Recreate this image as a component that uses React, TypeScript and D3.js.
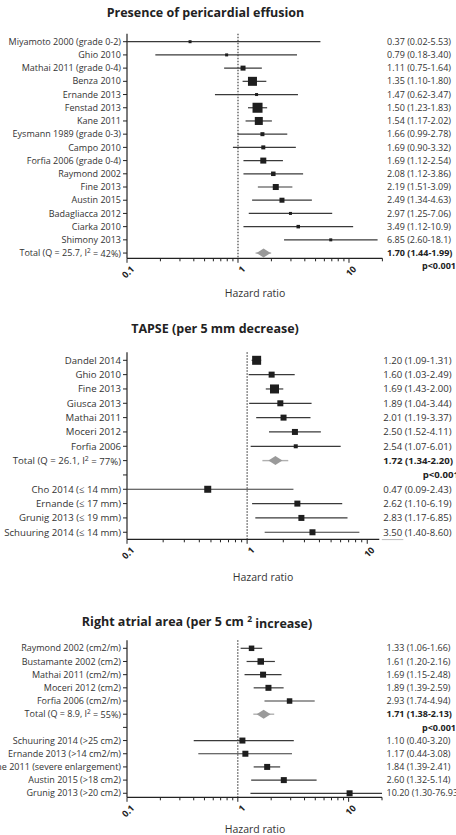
import React from 'react';
import * as d3 from 'd3';

const W = 456;
const H = 835;
const FONT = "'Open Sans', 'DejaVu Sans', sans-serif";

// ---------- Panel 1: Presence of pericardial effusion ----------
const effLabels = [
  'Miyamoto 2000 (grade 0-2)', 'Ghio 2010', 'Mathai 2011 (grade 0-4)', 'Benza 2010', 'Ernande 2013',
  'Fenstad 2013', 'Kane 2011', 'Eysmann 1989 (grade 0-3)', 'Campo 2010', 'Forfia 2006 (grade 0-4)',
  'Raymond 2002', 'Fine 2013', 'Austin 2015', 'Badagliacca 2012', 'Ciarka 2010', 'Shimony 2013',
];
const effHR = [0.37, 0.79, 1.11, 1.35, 1.47, 1.50, 1.54, 1.66, 1.69, 1.69, 2.08, 2.19, 2.49, 2.97, 3.49, 6.85];
const effLo = [0.02, 0.18, 0.75, 1.10, 0.62, 1.23, 1.17, 0.99, 0.90, 1.12, 1.12, 1.51, 1.34, 1.25, 1.12, 2.60];
const effHi = [5.53, 3.40, 1.64, 1.80, 3.47, 1.83, 2.02, 2.78, 3.32, 2.54, 3.86, 3.09, 4.63, 7.06, 10.9, 18.1];
const effWeight = [3, 3, 5, 9, 3, 10, 8, 4, 4, 6, 4.5, 6, 5, 3, 3.5, 3];
const effTexts = [
  '0.37 (0.02-5.53)', '0.79 (0.18-3.40)', '1.11 (0.75-1.64)', '1.35 (1.10-1.80)', '1.47 (0.62-3.47)',
  '1.50 (1.23-1.83)', '1.54 (1.17-2.02)', '1.66 (0.99-2.78)', '1.69 (0.90-3.32)', '1.69 (1.12-2.54)',
  '2.08 (1.12-3.86)', '2.19 (1.51-3.09)', '2.49 (1.34-4.63)', '2.97 (1.25-7.06)', '3.49 (1.12-10.9)',
  '6.85 (2.60-18.1)',
];
const effTotal = { label: 'Total (Q = 25.7, I²  = 42%)', hr: 1.70, lo: 1.44, hi: 1.99, text: '1.70 (1.44-1.99)' };

// ---------- Panel 2: TAPSE ----------
const tapLabels = ['Dandel 2014', 'Ghio 2010', 'Fine 2013', 'Giusca 2013', 'Mathai 2011', 'Moceri 2012', 'Forfia 2006'];
const tapHR = [1.20, 1.60, 1.69, 1.89, 2.01, 2.50, 2.54];
const tapLo = [1.09, 1.03, 1.43, 1.04, 1.19, 1.52, 1.07];
const tapHi = [1.31, 2.49, 2.00, 3.44, 3.37, 4.11, 6.01];
const tapWeight = [9, 6, 9, 6, 6, 6, 4];
const tapTexts = ['1.20 (1.09-1.31)', '1.60 (1.03-2.49)', '1.69 (1.43-2.00)', '1.89 (1.04-3.44)', '2.01 (1.19-3.37)', '2.50 (1.52-4.11)', '2.54 (1.07-6.01)'];
const tapTotal = { label: 'Total (Q = 26.1, I²  = 77%)', hr: 1.72, lo: 1.34, hi: 2.20, text: '1.72 (1.34-2.20)' };
const tapCutLabels = ['Cho 2014 (≤ 14 mm)', 'Ernande (≤ 17 mm)', 'Grunig 2013 (≤ 19 mm)', 'Schuuring 2014 (≤ 14 mm)'];
const tapCutHR = [0.47, 2.62, 2.83, 3.50];
const tapCutLo = [0.09, 1.10, 1.17, 1.40];
const tapCutHi = [2.43, 6.19, 6.85, 8.60];
const tapCutWeight = [7, 6, 6, 6];
const tapCutTexts = ['0.47 (0.09-2.43)', '2.62 (1.10-6.19)', '2.83 (1.17-6.85)', '3.50 (1.40-8.60)'];

// ---------- Panel 3: Right atrial area ----------
const raLabels = ['Raymond 2002 (cm2/m)', 'Bustamante 2002 (cm2)', 'Mathai 2011 (cm2/m)', 'Moceri 2012 (cm2)', 'Forfia 2006 (cm2/m)'];
const raHR = [1.33, 1.61, 1.69, 1.89, 2.93];
const raLo = [1.06, 1.20, 1.15, 1.39, 1.74];
const raHi = [1.66, 2.16, 2.48, 2.59, 4.94];
const raWeight = [5.5, 6.5, 6, 6, 5.5];
const raTexts = ['1.33 (1.06-1.66)', '1.61 (1.20-2.16)', '1.69 (1.15-2.48)', '1.89 (1.39-2.59)', '2.93 (1.74-4.94)'];
const raTotal = { label: 'Total (Q = 8.9, I²  = 55%)', hr: 1.71, lo: 1.38, hi: 2.13, text: '1.71 (1.38-2.13)' };
const raCutLabels = ['Schuuring 2014 (>25 cm2)', 'Ernande 2013 (>14 cm2/m)', 'Kane 2011 (severe enlargement)', 'Austin 2015 (>18 cm2)', 'Grunig 2013 (>20 cm2)'];
const raCutHR = [1.10, 1.17, 1.84, 2.60, 10.20];
const raCutLo = [0.40, 0.44, 1.39, 1.32, 1.30];
const raCutHi = [3.20, 3.08, 2.41, 5.14, 76.93];
const raCutWeight = [6, 6, 6, 6, 6];
const raCutTexts = ['1.10 (0.40-3.20)', '1.17 (0.44-3.08)', '1.84 (1.39-2.41)', '2.60 (1.32-5.14)', '10.20 (1.30-76.93)'];

const tickLabels = ['0.1', '1', '10'];
const pText = 'p<0.001';
const axisTitle = 'Hazard ratio';

type Row =
  | { kind: 'study'; label: string; hr: number; lo: number; hi: number; w: number; text: string }
  | { kind: 'total'; label: string; hr: number; lo: number; hi: number; text: string }
  | { kind: 'blank' };

function studies(l: string[], hr: number[], lo: number[], hi: number[], w: number[], t: string[]): Row[] {
  return l.map((label, i) => ({ kind: 'study' as const, label, hr: hr[i], lo: lo[i], hi: hi[i], w: w[i], text: t[i] }));
}

interface Cfg {
  title: React.ReactNode;
  titleX: number;
  titleY: number;
  rows: Row[];
  pRow: number;
  y0: number;
  step: number;
  axisY: number;
  xMax: number;
  xEnd: number;
  valX: number;
  xTitleX: number;
  xTitleY: number;
  fs: number;
  pRight: number;
  tail?: boolean;
}

const TEXT = '#333';
const MARK = '#1e1e1e';

function Label({ s, x, y, bold, fs }: { s: string; x: number; y: number; bold?: boolean; fs: number }) {
  const parts = s.split('²');
  return (
    <text x={x} y={y} dy="0.35em" textAnchor="end" fontSize={fs} fill={TEXT} fontWeight={bold ? 700 : 400}>
      {parts[0]}
      {parts.length > 1 && (
        <>
          <tspan dy="-0.45em" fontSize={fs * 0.72}>2</tspan>
          <tspan dy="0.45em">{parts[1]}</tspan>
        </>
      )}
    </text>
  );
}

function Panel({ c }: { c: Cfg }) {
  const x = d3.scaleLog().domain([0.1, c.xMax]).range([127, c.xEnd]);
  const [d0, d1] = x.domain();
  const clamp = (v: number) => x(Math.max(d0, Math.min(d1, v)));
  const ys = (i: number) => c.y0 + i * c.step;
  const ticks = x.ticks().filter((t) => t <= d1 + 1e-9);
  const top = c.y0 - 8;
  const majors = [0.1, 1, 10];
  return (
    <g>
      <text x={c.titleX} y={c.titleY} textAnchor="middle" fontSize={12.5} fontWeight={700} fill="#222">
        {c.title}
      </text>
      {/* reference line */}
      <line x1={x(1)} x2={x(1)} y1={top} y2={c.axisY} stroke="#333" strokeWidth={1.1} strokeDasharray="1.5,1.5" />
      {/* y axis */}
      <line x1={127} x2={127} y1={top} y2={c.axisY} stroke="#222" strokeWidth={1.2} />
      {c.rows.map((r, i) => (
        <line key={'yt' + i} x1={123} x2={127} y1={ys(i)} y2={ys(i)} stroke="#222" strokeWidth={1} />
      ))}
      {c.rows.map((r, i) => {
        const y = ys(i);
        if (r.kind === 'blank') return null;
        if (r.kind === 'study') {
          return (
            <g key={'r' + i}>
              <Label s={r.label} x={121} y={y} fs={c.fs} />
              <line x1={clamp(r.lo)} x2={clamp(r.hi)} y1={y} y2={y} stroke="#3a3a3a" strokeWidth={1.2} />
              <rect x={x(r.hr) - r.w / 2} y={y - r.w / 2} width={r.w} height={r.w} fill={MARK} />
              <text x={c.valX} y={y} dy="0.35em" fontSize={c.fs} fill={TEXT}>{r.text}</text>
            </g>
          );
        }
        const cx = x(r.hr);
        return (
          <g key={'r' + i}>
            <Label s={r.label} x={121} y={y} fs={c.fs} />
            <line x1={clamp(r.lo)} x2={clamp(r.hi)} y1={y} y2={y} stroke="#b0b0b0" strokeWidth={1.4} />
            <path d={`M${cx - 7},${y} L${cx},${y - 4.5} L${cx + 7},${y} L${cx},${y + 4.5} Z`} fill="#9a9a9a" />
            <text x={c.valX} y={y} dy="0.35em" fontSize={c.fs} fontWeight={700} fill="#222">{r.text}</text>
          </g>
        );
      })}
      <text x={c.pRight} y={ys(c.pRow)} dy="0.35em" textAnchor="end" fontSize={c.fs} fontWeight={700} fill="#222">
        {pText}
      </text>
      {/* x axis */}
      <line x1={127} x2={c.xEnd} y1={c.axisY} y2={c.axisY} stroke="#222" strokeWidth={1.2} />
      {c.tail && (
        <line x1={c.xEnd + 2.5} x2={c.xEnd + 24} y1={c.axisY + 0.3} y2={c.axisY + 0.3} stroke="#bbb" strokeWidth={1} />
      )}
      {ticks.map((t, i) => {
        const major = majors.some((m) => Math.abs(m - t) < 1e-9);
        return (
          <line key={'xt' + i} x1={x(t)} x2={x(t)} y1={c.axisY} y2={c.axisY + (major ? 4.5 : 3)} stroke="#222" strokeWidth={1} />
        );
      })}
      {majors.map((m, i) => (
        <text
          key={'xl' + i}
          transform={`translate(${x(m) + 3.5},${c.axisY + 7}) rotate(-45)`}
          textAnchor="end"
          dy="0.7em"
          fontSize={9}
          fontWeight={700}
          fill="#222"
        >
          {tickLabels[i]}
        </text>
      ))}
      <text x={c.xTitleX} y={c.xTitleY} textAnchor="middle" fontSize={10.5} fill={TEXT}>
        {axisTitle}
      </text>
    </g>
  );
}

export default function App() {
  const p1: Cfg = {
    title: 'Presence of pericardial effusion',
    titleX: 205.5,
    titleY: 17,
    rows: [...studies(effLabels, effHR, effLo, effHi, effWeight, effTexts), { kind: 'total', ...effTotal }],
    pRow: 17,
    y0: 41.7,
    step: 13.21,
    axisY: 258.3,
    xMax: 20,
    xEnd: 382.4,
    valX: 387,
    xTitleX: 255,
    xTitleY: 296.5,
    fs: 9,
    pRight: 456,
  };
  const p2: Cfg = {
    title: 'TAPSE (per 5 mm decrease)',
    titleX: 215,
    titleY: 333,
    rows: [
      ...studies(tapLabels, tapHR, tapLo, tapHi, tapWeight, tapTexts),
      { kind: 'total', ...tapTotal },
      { kind: 'blank' },
      ...studies(tapCutLabels, tapCutHR, tapCutLo, tapCutHi, tapCutWeight, tapCutTexts),
    ],
    pRow: 8,
    y0: 360.3,
    step: 14.33,
    axisY: 539.3,
    xMax: 12.6,
    xEnd: 379.3,
    valX: 383.3,
    xTitleX: 263,
    xTitleY: 580.5,
    fs: 9.6,
    pRight: 459,
    tail: true,
  };
  const p3: Cfg = {
    title: (
      <>
        Right atrial area (per 5 cm <tspan dy="-0.45em" fontSize={8.5}>2</tspan>
        <tspan dy="0.45em"> increase)</tspan>
      </>
    ),
    titleX: 197,
    titleY: 626,
    rows: [
      ...studies(raLabels, raHR, raLo, raHi, raWeight, raTexts),
      { kind: 'total', ...raTotal },
      { kind: 'blank' },
      ...studies(raCutLabels, raCutHR, raCutLo, raCutHi, raCutWeight, raCutTexts),
    ],
    pRow: 6,
    y0: 648.3,
    step: 13.18,
    axisY: 797.3,
    xMax: 20,
    xEnd: 382,
    valX: 386.5,
    xTitleX: 255,
    xTitleY: 833,
    fs: 9,
    pRight: 456,
  };
  return (
    <svg
      width={W}
      height={H}
      viewBox={`0 0 ${W} ${H}`}
      style={{ position: 'absolute', left: 0, top: 0, fontFamily: FONT, background: '#fff' }}
    >
      <rect width={W} height={H} fill="#fff" />
      <Panel c={p1} />
      <Panel c={p2} />
      <Panel c={p3} />
    </svg>
  );
}
